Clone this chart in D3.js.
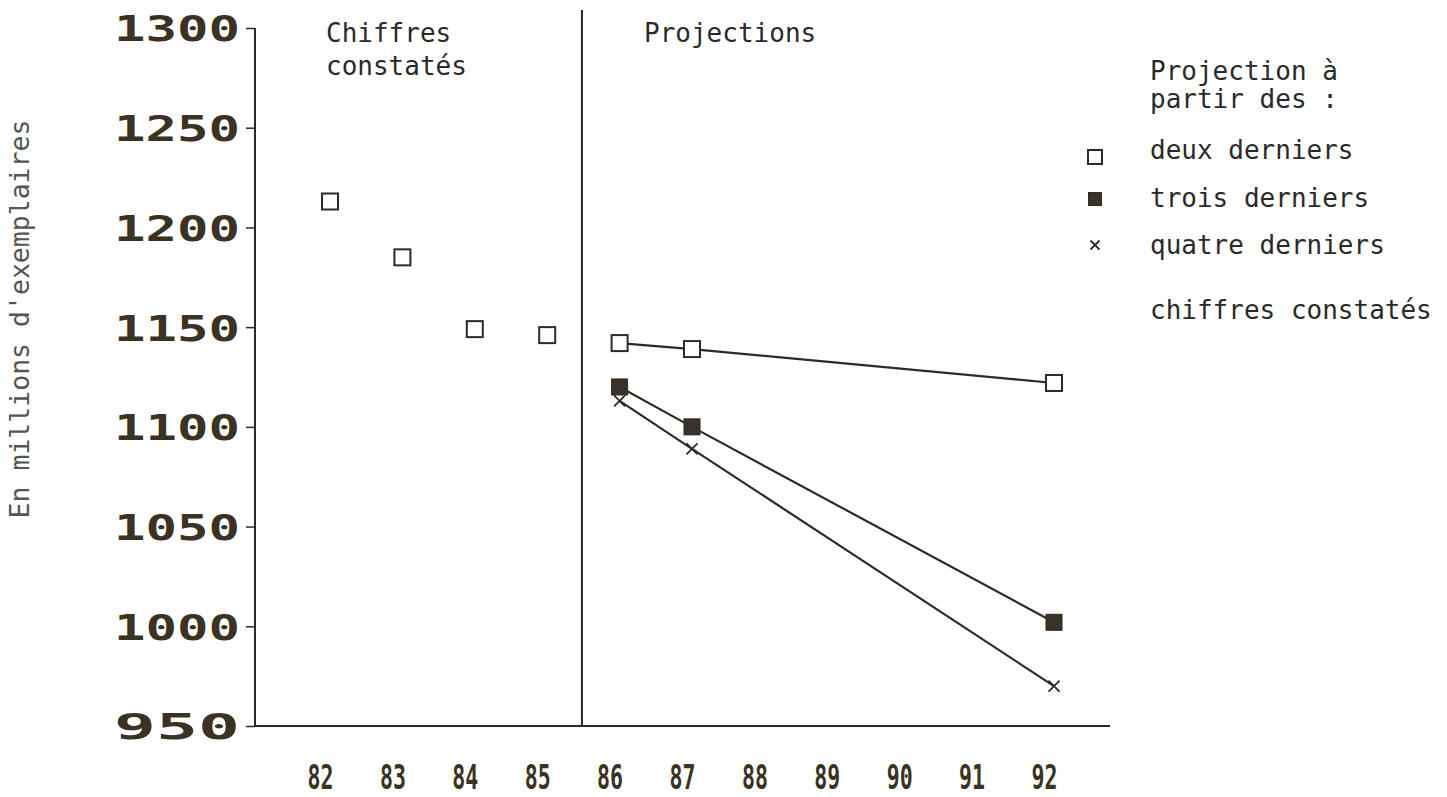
<!DOCTYPE html>
<html><head><meta charset="utf-8">
<script src="https://cdn.jsdelivr.net/npm/d3@7"></script>
<style>body{margin:0;background:#fff;} svg{display:block;}</style>
</head><body>
<script>
const years = [82,83,84,85,86,87,88,89,90,91,92];
const yTicks = [950,1000,1050,1100,1150,1200,1250,1300];
const observedYears = [82,83,84,85];
const observedValues = [1213,1185,1149,1146];
const projYears = [86,87,92];
const deuxValues = [1142,1139,1122];
const troisValues = [1120,1100,1002];
const quatreValues = [1113,1089,970];
const legendLabels = ["deux derniers","trois derniers","quatre derniers","chiffres constatés"];

const W=1447,H=797;
const svg=d3.select("body").append("svg").attr("width",W).attr("height",H);
const ink="#2e2a26";
const x=d3.scaleLinear().domain([82,92]).range([330,1054]);
const y=d3.scaleLinear().domain([950,1300]).range([726,28]);
const mono="'DejaVu Sans Mono', monospace";

// y axis
const yAxis=d3.axisLeft(y).tickValues(yTicks).tickSize(9).tickFormat(d3.format("d"));
const gy=svg.append("g").attr("transform","translate(255,0)").call(yAxis);
gy.select(".domain").attr("d","M0,"+y(1300)+"V"+y(950)).attr("stroke",ink).attr("stroke-width",2);
gy.selectAll(".tick line").attr("stroke",ink).attr("stroke-width",1.5);
gy.selectAll(".tick text").attr("x",-15).attr("dy","0.36em")
  .attr("font-family",mono).attr("font-weight","bold").attr("font-size",36)
  .attr("fill","#3b3224").attr("textLength",126).attr("lengthAdjust","spacingAndGlyphs");

// x axis
const xAxis=d3.axisBottom(x).tickValues(years).tickSize(0).tickFormat(d=>String(d));
const gx=svg.append("g").attr("transform","translate(0,726)").call(xAxis);
gx.select(".domain").attr("d","M255,0H1110").attr("stroke",ink).attr("stroke-width",2);
gx.selectAll(".tick text").attr("x",-10).attr("y",63).attr("dy",0)
  .attr("font-family",mono).attr("font-weight","bold").attr("font-size",33)
  .attr("fill","#3b3224").attr("textLength",26).attr("lengthAdjust","spacingAndGlyphs");

// divider
svg.append("line").attr("x1",x(85.48)).attr("x2",x(85.48)).attr("y1",10).attr("y2",726)
  .attr("stroke",ink).attr("stroke-width",2);

// section labels
const txt=(t,px,py,fs,col)=>svg.append("text").attr("x",px).attr("y",py).text(t)
  .attr("font-family",mono).attr("font-size",fs||26).attr("fill",col||"#2a2a2a");
txt("Chiffres",326,42);
txt("constatés",326,75);
txt("Projections",644,42);

// y label
svg.append("text").attr("transform","translate(29,319) rotate(-90)").attr("text-anchor","middle")
  .text("En millions d'exemplaires").attr("font-family",mono).attr("font-size",26.5).attr("fill","#555");

// lines
const line=d3.line().x(d=>x(d[0])).y(d=>y(d[1]));
[deuxValues,troisValues,quatreValues].forEach(vals=>{
  svg.append("path").datum(projYears.map((yr,i)=>[yr,vals[i]])).attr("d",line)
    .attr("fill","none").attr("stroke",ink).attr("stroke-width",2.2);
});

const sq=16;
function openSquare(g,px,py,s){g.append("rect").attr("x",px-s/2).attr("y",py-s/2).attr("width",s).attr("height",s)
  .attr("fill","#fff").attr("stroke",ink).attr("stroke-width",2);}
function fillSquare(g,px,py,s){g.append("rect").attr("x",px-s/2).attr("y",py-s/2).attr("width",s).attr("height",s)
  .attr("fill","#3a3128").attr("stroke",ink).attr("stroke-width",1);}
function cross(g,px,py,s){g.append("path").attr("d",`M${px-s/2},${py-s/2}L${px+s/2},${py+s/2}M${px+s/2},${py-s/2}L${px-s/2},${py+s/2}`)
  .attr("stroke",ink).attr("stroke-width",1.8);}

observedYears.forEach((yr,i)=>openSquare(svg,x(yr),y(observedValues[i]),sq));
quatreValues.forEach((v,i)=>cross(svg,x(projYears[i]),y(v),11));
troisValues.forEach((v,i)=>fillSquare(svg,x(projYears[i]),y(v),sq));
deuxValues.forEach((v,i)=>openSquare(svg,x(projYears[i]),y(v),sq));

// legend
txt("Projection à",1150,80);
txt("partir des :",1150,108);
const ly=[159,207,254,319];
legendLabels.forEach((l,i)=>txt(l,1150,ly[i]));
openSquare(svg,1095,157,14);
fillSquare(svg,1095,199,13);
cross(svg,1095,245,9);
</script>
</body></html>
